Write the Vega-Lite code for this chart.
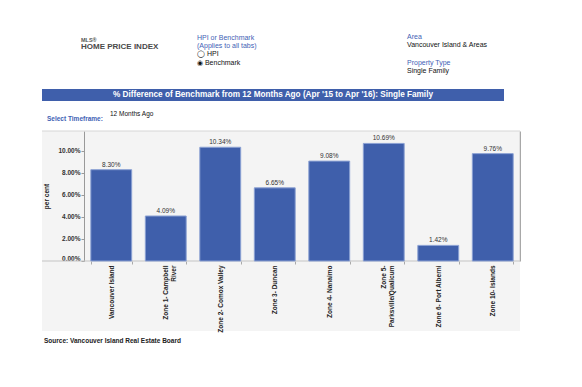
{
  "$schema": "https://vega.github.io/schema/vega-lite/v6.json",
  "background": "white",
  "padding": {"left": 39, "top": 33, "right": 0, "bottom": 0},
  "bounds": "full",
  "spacing": 0,
  "config": {
    "font": "Liberation Sans",
    "view": {"stroke": null},
    "title": {"anchor": "start", "frame": "group"}
  },
  "vconcat": [
    {
      "hconcat": [
        {
          "width": 155, "height": 11,
          "data": {"values": []},
          "mark": "text",
          "title": {"text": "MLS®", "subtitle": "HOME PRICE INDEX", "fontSize": 5.5, "fontWeight": "bold", "color": "#555555", "subtitleFontSize": 8, "subtitleFontWeight": "bold", "subtitleColor": "#4a4a4a", "subtitlePadding": 0, "dx": 39, "offset": 27}
        },
        {
          "width": 210, "height": 11,
          "data": {"values": []},
          "mark": "text",
          "title": {"text": ["HPI or Benchmark", "(Applies to all tabs)"], "fontSize": 7, "fontWeight": "normal", "color": "#3f62b5", "lineHeight": 8.5, "subtitle": ["◯ HPI", "◉ Benchmark"], "subtitleFontSize": 7, "subtitleColor": "#111111", "subtitleLineHeight": 9, "subtitlePadding": 1, "offset": 12}
        },
        {
          "width": 1, "height": 11,
          "data": {"values": []},
          "mark": "text",
          "title": {"text": "Area", "subtitle": "Vancouver Island & Areas", "fontSize": 7, "fontWeight": "normal", "color": "#3f62b5", "subtitleFontSize": 7, "subtitleColor": "#111111", "subtitlePadding": 1, "offset": 30}
        },
        {
          "width": 100, "height": 11,
          "data": {"values": []},
          "mark": "text",
          "title": {"text": "Property Type", "subtitle": "Single Family", "fontSize": 7, "fontWeight": "normal", "color": "#3f62b5", "subtitleFontSize": 7, "subtitleColor": "#111111", "subtitlePadding": 1, "offset": 4, "dx": -1}
        }
      ],
      "spacing": 0,
      "bounds": "flush"
    },
    {
      "width": 462, "height": 12,
      "view": {"fill": "#3f5fab"},
      "data": {"values": [{"heading": "% Difference of Benchmark from 12 Months Ago (Apr '15 to Apr '16): Single Family"}]},
      "mark": {"type": "text", "color": "white", "fontSize": 8.2, "fontWeight": "bold", "align": "center", "baseline": "middle"},
      "encoding": {"text": {"field": "heading"}}
    },
    {
      "hconcat": [
        {
          "width": 10, "height": 29,
          "data": {"values": [{"t": "Select Timeframe:"}]},
          "mark": {"type": "text", "align": "left", "baseline": "top", "fontSize": 6.5, "fontWeight": "bold", "color": "#3f62b5"},
          "encoding": {"text": {"field": "t"}}
        },
        {
          "width": 116, "height": 26,
          "data": {"values": [{"t": "12 Months Ago"}]},
          "mark": {"type": "text", "align": "left", "baseline": "middle", "fontSize": 6.5, "color": "#111111"},
          "encoding": {"text": {"field": "t"}}
        }
      ],
      "spacing": 0,
      "bounds": "flush"
    },
    {
      "width": 478, "height": 200,
      "view": {"fill": "#f4f4f4"},
      "title": {"text": "Source: Vancouver Island Real Estate Board", "orient": "bottom", "anchor": "start", "fontSize": 6.5, "fontWeight": "bold", "color": "#222222", "offset": 6, "dx": 2},
      "data": {"values": [
        {"area": "Vancouver Island", "change": 0.0830},
        {"area": "Zone 1- Campbell River", "change": 0.0409},
        {"area": "Zone 2- Comox Valley", "change": 0.1034},
        {"area": "Zone 3- Duncan", "change": 0.0665},
        {"area": "Zone 4- Nanaimo", "change": 0.0908},
        {"area": "Zone 5- Parksville/Qualicum", "change": 0.1069},
        {"area": "Zone 6- Port Alberni", "change": 0.0142},
        {"area": "Zone 10- Islands", "change": 0.0976}
      ]},
      "layer": [
        {
          "data": {"values": [{"base": 0}]},
          "mark": {"type": "rule", "color": "#c4c4c4", "strokeWidth": 1},
          "encoding": {
            "y": {"field": "base", "type": "quantitative",
              "axis": {"orient": "right", "labels": false, "ticks": false, "title": null, "grid": false, "domainColor": "#a8a8a8", "domainWidth": 1.5}}
          }
        },
        {
          "data": {"values": [{"top": 0.11818}]},
          "mark": {"type": "rule", "color": "#d6d6d6", "strokeWidth": 1},
          "encoding": {
            "y": {"field": "top", "type": "quantitative", "axis": null}
          }
        },
        {
          "mark": {"type": "bar", "fill": "#3f5fab", "stroke": "#8ba1d3", "strokeWidth": 1},
          "encoding": {
            "x": {"field": "area", "type": "nominal", "sort": null,
              "scale": {"range": [42, 478], "paddingInner": 0.25, "paddingOuter": 0.125},
              "axis": {"orient": "bottom", "offset": -70, "title": null, "domain": false,
                "labelAngle": -90, "labelAlign": "right", "labelBaseline": "middle",
                "labelFontSize": 6.5, "labelFontWeight": "bold", "labelColor": "#222222",
                "labelPadding": 1, "labelLimit": 200, "labelLineHeight": 7.5,
                "tickBand": "extent", "tickSize": 3, "tickColor": "#aaaaaa",
                "labelExpr": "datum.value == 'Zone 1- Campbell River' ? ['Zone 1- Campbell', 'River'] : datum.value == 'Zone 5- Parksville/Qualicum' ? ['Zone 5-', 'Parksville/Qualicum'] : datum.label"}},
            "y": {"field": "change", "type": "quantitative",
              "scale": {"domain": [0, 0.11818], "range": [130, 0], "nice": false, "zero": false},
              "axis": {"orient": "left", "offset": -42, "values": [0, 0.02, 0.04, 0.06, 0.08, 0.1], "format": ".2%",
                "title": "per cent", "titleFontSize": 6.5, "titleFontWeight": "bold", "titleColor": "#222222", "titlePadding": 8,
                "labelFontSize": 6.5, "labelFontWeight": "bold", "labelColor": "#333333", "labelPadding": 1,
                "labelBaseline": {"condition": {"test": "datum.value == 0", "value": "bottom"}, "value": "middle"},
                "tickSize": 3, "tickColor": "#999999", "domainColor": "#999999", "grid": false}}
          }
        },
        {
          "mark": {"type": "text", "baseline": "bottom", "dy": -2, "fontSize": 6.5, "color": "#333333"},
          "encoding": {
            "x": {"field": "area", "type": "nominal", "sort": null},
            "y": {"field": "change", "type": "quantitative", "axis": null},
            "text": {"field": "change", "format": ".2%"}
          }
        }
      ],
      "resolve": {"axis": {"y": "independent"}}
    }
  ]
}
